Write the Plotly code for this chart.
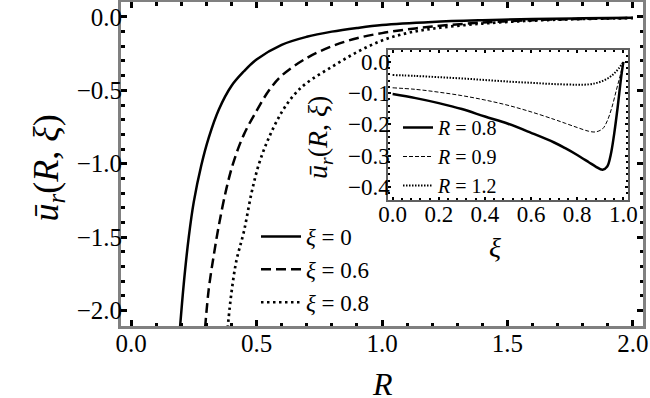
import plotly.graph_objects as go

# ---- main panel data: u_r(R, xi) vs R ----
R_xi0 = [0.195, 0.21, 0.23, 0.25, 0.28, 0.31, 0.35, 0.40, 0.45, 0.50, 0.60, 0.70, 0.80, 0.90, 1.0, 1.2, 1.4, 1.6, 1.8, 2.0]
u_xi0 = [-2.12, -1.82, -1.50, -1.26, -1.01, -0.82, -0.63, -0.47, -0.37, -0.29, -0.19, -0.135, -0.10, -0.075, -0.055, -0.034, -0.022, -0.014, -0.009, -0.005]

R_xi06 = [0.295, 0.31, 0.33, 0.35, 0.38, 0.41, 0.45, 0.50, 0.55, 0.60, 0.70, 0.80, 0.90, 1.0, 1.1, 1.2, 1.4, 1.6, 1.8, 2.0]
u_xi06 = [-2.12, -1.85, -1.62, -1.42, -1.17, -0.98, -0.80, -0.64, -0.50, -0.40, -0.28, -0.20, -0.145, -0.11, -0.085, -0.065, -0.038, -0.022, -0.013, -0.007]

R_xi08 = [0.385, 0.40, 0.42, 0.45, 0.48, 0.51, 0.55, 0.60, 0.65, 0.70, 0.80, 0.90, 1.0, 1.1, 1.2, 1.4, 1.6, 1.8, 2.0]
u_xi08 = [-2.12, -1.88, -1.66, -1.46, -1.20, -1.00, -0.82, -0.65, -0.53, -0.45, -0.34, -0.24, -0.16, -0.11, -0.08, -0.045, -0.025, -0.014, -0.008]

# ---- inset data: u_r(R, xi) vs xi ----
xi_R08 = [0.0, 0.1, 0.2, 0.3, 0.4, 0.5, 0.6, 0.7, 0.75, 0.8, 0.85, 0.88, 0.91, 0.93, 0.945, 0.96, 0.975, 0.99, 1.0]
u_R08 = [-0.103, -0.116, -0.132, -0.151, -0.175, -0.198, -0.227, -0.258, -0.277, -0.298, -0.321, -0.335, -0.345, -0.335, -0.298, -0.231, -0.146, -0.051, 0.0]

xi_R09 = [0.0, 0.1, 0.2, 0.3, 0.4, 0.5, 0.6, 0.7, 0.75, 0.8, 0.85, 0.88, 0.91, 0.93, 0.95, 0.97, 0.985, 1.0]
u_R09 = [-0.083, -0.088, -0.097, -0.108, -0.122, -0.139, -0.160, -0.184, -0.197, -0.210, -0.222, -0.224, -0.214, -0.189, -0.146, -0.089, -0.047, 0.0]

xi_R12 = [0.0, 0.1, 0.2, 0.3, 0.4, 0.5, 0.6, 0.7, 0.8, 0.85, 0.88, 0.91, 0.94, 0.96, 0.98, 1.0]
u_R12 = [-0.042, -0.045, -0.049, -0.053, -0.058, -0.063, -0.067, -0.071, -0.073, -0.072, -0.068, -0.061, -0.049, -0.037, -0.021, 0.0]

main_ticks = [0, 0.5, 1, 1.5, 2]
main_ticklabels = ["0.0", "0.5", "1.0", "1.5", "2.0"]
main_yticks = [0, -0.5, -1, -1.5, -2]
main_yticklabels = ["0.0", "−0.5", "−1.0", "−1.5", "−2.0"]
inset_xticks = [0, 0.2, 0.4, 0.6, 0.8, 1.0]
inset_xticklabels = ["0.0", "0.2", "0.4", "0.6", "0.8", "1.0"]
inset_yticks = [0, -0.1, -0.2, -0.3, -0.4]
inset_yticklabels = ["0.0", "−0.1", "−0.2", "−0.3", "−0.4"]

SERIF = "'Liberation Serif', 'Times New Roman', serif"
W, H = 650, 398


def px(X):
    return X / W


def py(Y):
    return 1 - Y / H


fig = go.Figure()

fig.add_trace(go.Scatter(x=R_xi0, y=u_xi0, mode="lines", line=dict(color="black", width=2.5, shape="spline"),
                         name="<i>ξ</i> = 0", xaxis="x", yaxis="y", legend="legend"))
fig.add_trace(go.Scatter(x=R_xi06, y=u_xi06, mode="lines", line=dict(color="black", width=2.5, dash="10px,5px", shape="spline"),
                         name="<i>ξ</i> = 0.6", xaxis="x", yaxis="y", legend="legend"))
fig.add_trace(go.Scatter(x=R_xi08, y=u_xi08, mode="lines", line=dict(color="black", width=2.7, dash="2.5px,3.5px", shape="spline"),
                         name="<i>ξ</i> = 0.8", xaxis="x", yaxis="y", legend="legend"))

fig.add_trace(go.Scatter(x=xi_R08, y=u_R08, mode="lines", line=dict(color="black", width=2.5, shape="spline"),
                         name="<i>R</i> = 0.8", xaxis="x2", yaxis="y2", legend="legend2"))
fig.add_trace(go.Scatter(x=xi_R09, y=u_R09, mode="lines", line=dict(color="black", width=1, dash="4px,2px", shape="spline"),
                         name="<i>R</i> = 0.9", xaxis="x2", yaxis="y2", legend="legend2"))
fig.add_trace(go.Scatter(x=xi_R12, y=u_R12, mode="lines", line=dict(color="black", width=2, dash="1.5px,1.5px", shape="spline"),
                         name="<i>R</i> = 1.2", xaxis="x2", yaxis="y2", legend="legend2"))

main_tick = dict(ticks="inside", ticklen=6, tickwidth=2.5, tickcolor="black",
                 showline=True, linecolor="#808080", linewidth=3, mirror="allticks", automargin=False,
                 showgrid=False, zeroline=False, tickfont=dict(family=SERIF, size=25, color="black"))
inset_tick = dict(ticks="inside", ticklen=3, tickwidth=1.5, tickcolor="black",
                  showline=True, linecolor="#606060", linewidth=1.5, mirror="allticks", automargin=False,
                  showgrid=False, zeroline=False, tickfont=dict(family=SERIF, size=23, color="black"))

fig.update_layout(
    width=W, height=H,
    margin=dict(l=0, r=0, t=0, b=0, autoexpand=False),
    paper_bgcolor="white", plot_bgcolor="white",
    xaxis=dict(domain=[px(121), px(643)], range=[-0.04, 2.04], anchor="y",
               tickvals=main_ticks, ticktext=main_ticklabels, ticklabelstandoff=-7,
               minor=dict(dtick=0.1, tick0=0, ticks="inside", ticklen=3.5, tickwidth=2.5, tickcolor="black"),
               **main_tick),
    yaxis=dict(domain=[py(326), py(2)], range=[-2.106, 0.102], anchor="x",
               tickvals=main_yticks, ticktext=main_yticklabels, ticklabelstandoff=-9,
               minor=dict(dtick=0.1, tick0=0, ticks="inside", ticklen=3.5, tickwidth=2.5, tickcolor="black"),
               **main_tick),
    xaxis2=dict(domain=[px(388), px(628)], range=[-0.02, 1.02], anchor="y2",
                tickvals=inset_xticks, ticktext=inset_xticklabels, ticklabelstandoff=-7,
                minor=dict(dtick=0.04, tick0=0, ticks="inside", ticklen=2, tickwidth=1.5, tickcolor="black"),
                **inset_tick),
    yaxis2=dict(domain=[py(200), py(50)], range=[-0.442, 0.038], anchor="x2",
                tickvals=inset_yticks, ticktext=inset_yticklabels, ticklabelstandoff=-8,
                minor=dict(dtick=0.02, tick0=0, ticks="inside", ticklen=2, tickwidth=1.5, tickcolor="black"),
                **inset_tick),
    legend=dict(x=px(256), y=py(215), xanchor="left", yanchor="top", bgcolor="rgba(0,0,0,0)",
                font=dict(family=SERIF, size=23, color="black"), itemwidth=40, tracegroupgap=0),
    legend2=dict(x=px(398), y=py(108), xanchor="left", yanchor="top", bgcolor="rgba(0,0,0,0)",
                 font=dict(family=SERIF, size=20, color="black"), itemwidth=30, tracegroupgap=0),
    showlegend=True,
    annotations=[
        dict(text="<i>R</i>", x=px(382), y=0, xref="paper", yref="paper", yanchor="bottom", yshift=-6,
             showarrow=False, font=dict(family=SERIF, size=32, color="black")),
        dict(text="<i>ū</i><sub><i>r</i></sub>(<i>R</i>, <i>ξ</i>)", x=px(23), y=py(168), xref="paper", yref="paper",
             showarrow=False, textangle=-90, font=dict(family=SERIF, size=36, color="black")),
        dict(text="<i>ξ</i>", x=px(503), y=py(247), xref="paper", yref="paper", showarrow=False,
             font=dict(family=SERIF, size=28, color="black")),
        dict(text="<i>ū</i><sub><i>r</i></sub>(<i>R</i>, <i>ξ</i>)", x=px(319), y=py(138), xref="paper", yref="paper",
             showarrow=False, textangle=-90, font=dict(family=SERIF, size=28, color="black")),
    ],
)

# remove the browser's default 8px body margin so the 650x398 figure fills the window exactly
fig.write_html("out.html", config={"displayModeBar": False},
               post_script="document.body.style.margin='0px';document.body.style.overflow='hidden';")
